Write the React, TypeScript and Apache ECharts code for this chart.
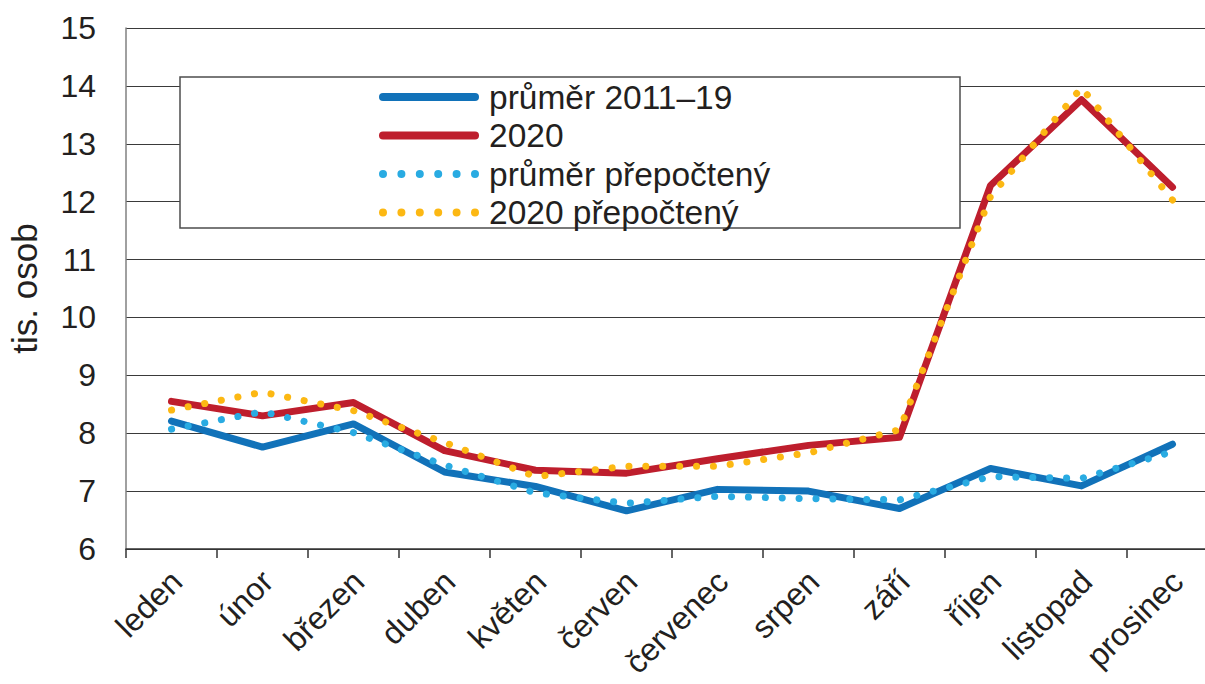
import React, { useEffect, useRef } from "react";
import * as echarts from "echarts";

const months = ["leden", "únor", "březen", "duben", "květen", "červen", "červenec", "srpen", "září", "říjen", "listopad", "prosinec"];
const avg2011to19 = [8.21, 7.76, 8.16, 7.33, 7.08, 6.66, 7.03, 7.0, 6.7, 7.39, 7.09, 7.81];
const values2020 = [8.55, 8.3, 8.53, 7.7, 7.36, 7.31, 7.56, 7.79, 7.93, 12.28, 13.76, 12.25];
const avgRecalc = [8.07, 8.37, 8.01, 7.45, 6.97, 6.79, 6.91, 6.87, 6.85, 7.25, 7.22, 7.68];
const recalc2020 = [8.4, 8.71, 8.39, 7.84, 7.25, 7.43, 7.43, 7.66, 8.06, 12.09, 13.97, 12.03];
const seriesNames = ["průměr 2011–19", "2020", "průměr přepočtený", "2020 přepočtený"];
const yTitle = "tis. osob";

const FONT = "'Liberation Sans', Arial, Helvetica, sans-serif";
const TEXT = "#231f20";

// legend icons (drawn in a 100 x 8 box)
const SOLID_ICON = "path://M4,0 L96,0 A4,4 0 0 1 96,8 L4,8 A4,4 0 0 1 4,0 Z";
const dotPath = (() => {
  let d = "path://";
  const n = 6;
  for (let i = 0; i < n; i++) {
    const cx = 4 + (i * 92) / (n - 1);
    d += `M${cx - 4},4 A4,4 0 1 0 ${cx + 4},4 A4,4 0 1 0 ${cx - 4},4 Z `;
  }
  return d.trim();
})();

export default function App() {
  const ref = useRef<HTMLDivElement>(null);
  useEffect(() => {
    if (!ref.current) return;
    const chart = echarts.init(ref.current, null, { renderer: "svg" });
    const solid = (name: string, data: number[], color: string) => ({
      name,
      type: "line",
      data,
      symbol: "none",
      showSymbol: false,
      z: 2,
      lineStyle: { color, width: 7, cap: "round", join: "round" },
      itemStyle: { color },
    });
    const dotted = (name: string, data: number[], color: string) => ({
      name,
      type: "line",
      data,
      symbol: "none",
      showSymbol: false,
      z: 3,
      lineStyle: { color, width: 7, type: [0.1, 16.8], cap: "round", join: "round" },
      itemStyle: { color },
    });
    chart.setOption({
      animation: false,
      textStyle: { fontFamily: FONT },
      grid: { left: 126, top: 28, width: 1092, height: 521, containLabel: false, outerBoundsMode: "none" },
      graphic: [
        {
          type: "rect",
          z: 1,
          shape: { x: 180, y: 77, width: 780, height: 151 },
          style: { fill: "#ffffff", stroke: "#4d4d4d", lineWidth: 1.5 },
        },
      ],
      legend: {
        orient: "vertical",
        left: 379,
        top: 80,
        padding: 0,
        itemWidth: 100,
        itemHeight: 8,
        itemGap: 4.5,
        z: 5,
        data: [
          { name: seriesNames[0], icon: SOLID_ICON },
          { name: seriesNames[1], icon: SOLID_ICON },
          { name: seriesNames[2], icon: dotPath },
          { name: seriesNames[3], icon: dotPath },
        ],
        textStyle: { fontFamily: FONT, fontSize: 33.5, color: TEXT, lineHeight: 32, padding: [0, 0, 0, 5] },
      },
      xAxis: {
        type: "category",
        data: months,
        boundaryGap: true,
        axisLine: { show: true, lineStyle: { color: "#333333", width: 1.5 } },
        axisTick: { show: true, length: 9, lineStyle: { color: "#333333", width: 1.5 } },
        axisLabel: {
          interval: 0,
          rotate: 45,
          margin: 32,
          padding: [0, -7, 0, 0],
          fontFamily: FONT,
          fontSize: 32,
          color: TEXT,
        },
        splitLine: { show: false },
      },
      yAxis: {
        type: "value",
        min: 6,
        max: 15,
        interval: 1,
        name: yTitle,
        nameLocation: "middle",
        nameGap: 84,
        nameTextStyle: { fontFamily: FONT, fontSize: 35, color: TEXT },
        axisLine: { show: true, lineStyle: { color: "#808080", width: 1.5 } },
        axisTick: { show: false },
        axisLabel: { margin: 30, fontFamily: FONT, fontSize: 32, color: TEXT },
        splitLine: { show: true, lineStyle: { color: "#3a3a3a", width: 1.2 } },
      },
      series: [
        solid(seriesNames[0], avg2011to19, "#1172b9"),
        solid(seriesNames[1], values2020, "#be1e2d"),
        dotted(seriesNames[2], avgRecalc, "#29abe2"),
        dotted(seriesNames[3], recalc2020, "#fcb813"),
      ],
    });
    return () => chart.dispose();
  }, []);
  return (
    <div
      ref={ref}
      style={{ position: "fixed", left: 0, top: 0, width: 1205, height: 684, background: "#ffffff" }}
    />
  );
}
